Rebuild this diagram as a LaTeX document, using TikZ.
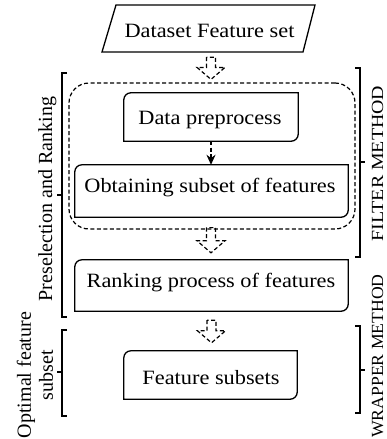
\documentclass[tikz,border=0pt]{standalone}
\usepackage{fontspec}
\setmainfont{Liberation Serif}
\usetikzlibrary{calc,arrows.meta}
\tikzset{
 boxtext/.style={anchor=base, inner sep=0pt, font=\fontsize{20.3}{24}\selectfont},
 sidetext/.style={anchor=base, inner sep=0pt, rotate=90, font=\fontsize{20}{22}\selectfont, align=center},
 righttext/.style={anchor=base, inner sep=0pt, rotate=90, font=\fontsize{17}{20}\selectfont},
 frame/.style={draw=none, inner sep=0pt, minimum width=#1},
 dsh/.style={dash pattern=on 4pt off 2.5pt, line width=1.2pt},
 hol/.style={draw, dsh},
 brk/.style={line width=1.2pt},
 solidline/.style={line width=1.3pt, line join=miter},
}
\newcommand\sx[1]{\scalebox{1.1}[1]{#1}}
\newcommand\rbox[1]{\draw[solidline] ([yshift=-7pt]#1.north west) arc[start angle=180,end angle=90,radius=7pt] -- (#1.north east) -- ([yshift=7pt]#1.south east) arc[start angle=0,end angle=-90,radius=7pt] -- (#1.south west) -- cycle;}
\newcommand\harrow[2]{\draw[hol] ($(#1)+(-4.5,0)$) -- ($(#2)+(-4.5,-12)$) -- ($(#2)+(-14,-12)$) -- (#2) -- ($(#2)+(14,-12)$) -- ($(#2)+(4.5,-12)$) -- ($(#1)+(4.5,0)$) -- cycle;}
\begin{document}
\begin{tikzpicture}[x=1pt,y=-1pt]
\useasboundingbox (0,0) rectangle (387,439);
% dataset parallelogram
\node[frame=190pt, minimum height=47pt] (ds) at (208.5,28.5) {};
\draw[solidline] (116,5) -- (315,5) -- (303,52) -- (102,52) -- cycle;
\node[boxtext] (t0) at (209.5,37) {\sx{Dataset Feature set}};
% dashed filter frame
\node[draw, dsh, rounded corners=20pt, minimum width=286pt, minimum height=146pt, inner sep=0pt] (fb) at (212,156) {};
% boxes
\node[frame=174pt, minimum height=48pt] (dp) at (211,117) {};
\node[frame=273pt, minimum height=52pt] (ob) at (211.5,191) {};
\node[frame=273pt, minimum height=51pt] (rk) at (211.5,285.5) {};
\node[frame=173pt, minimum height=48pt] (fs) at (210.5,375) {};
\rbox{dp}\rbox{ob}\rbox{rk}\rbox{fs}
\node[boxtext] (t1) at (210,124) {\sx{Data preprocess}};
\node[boxtext] (t2) at (210,192) {\sx{Obtaining subset of features}};
\node[boxtext] (t3) at (211,287) {\sx{Ranking process of features}};
\node[boxtext] (t4) at (211,384) {\sx{Feature subsets}};
% connectors
\coordinate (a1s) at ($(fb.north |- ds.south)+(-1,5)$);
\coordinate (a1e) at ($(fb.north)+(-1,-3)$);
\harrow{a1s}{a1e}
\coordinate (a2s) at ($(fb.south)+(-1,-2)$);
\coordinate (a2e) at ($(fb.south |- rk.north)+(-1,-7)$);
\harrow{a2s}{a2e}
\coordinate (a3s) at ($(rk.south)+(0,9)$);
\coordinate (a3e) at ($(rk.south |- fs.north)+(0,-8)$);
\harrow{a3s}{a3e}
\draw[dsh, -{Stealth[length=10pt,width=9pt]}] (dp.south) -- (dp.south |- ob.north);
% brackets
\draw[brk] (67,73) -- (62,73) -- (62,317) -- (67,317);
\draw[brk] (62,195) -- (57,195);
\draw[brk] (67,330) -- (62,330) -- (62,416) -- (67,416);
\draw[brk] (62,372) -- (57,372);
\draw[brk] (355,68) -- (360,68) -- (360,257) -- (355,257);
\draw[brk] (360,162) -- (365,162);
\draw[brk] (355,326) -- (360,326) -- (360,413) -- (355,413);
\draw[brk] (360,370) -- (365,370);
% side labels
\node[sidetext] (l1) at (52,199) {Preselection and Ranking};
\node[sidetext, anchor=center] (l2) at (35,375) {Optimal feature\\subset};
\node[righttext] (r1) at (383,163.5) {\scalebox{1.17}[1]{FILTER METHOD}};
\node[righttext] (r2) at (383,356) {\scalebox{1.04}[1]{WRAPPER METHOD}};
\end{tikzpicture}
\end{document}
